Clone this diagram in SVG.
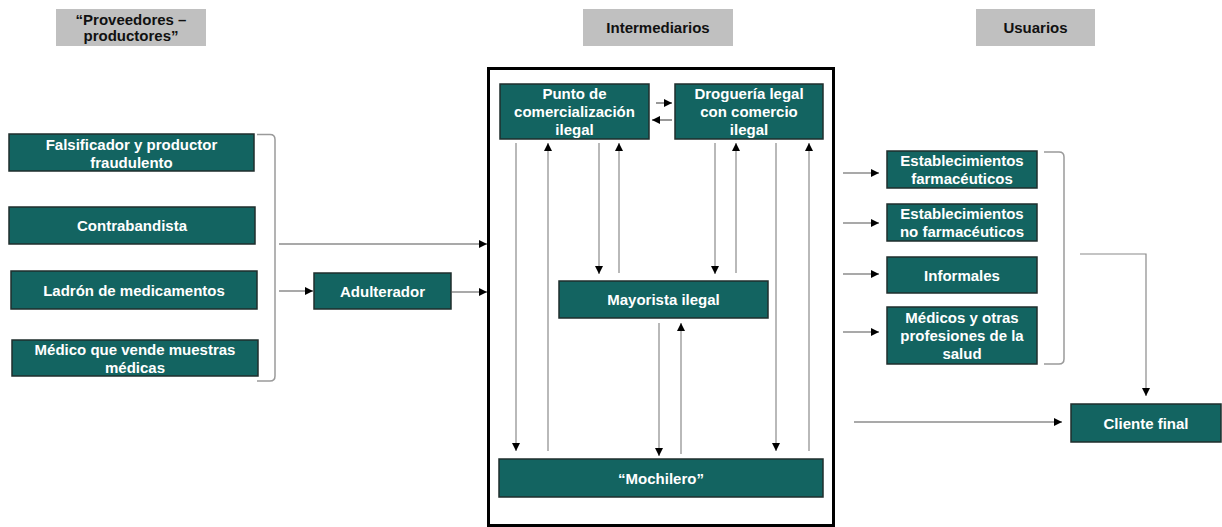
<svg xmlns="http://www.w3.org/2000/svg" width="1222" height="527" viewBox="0 0 1222 527">
<style>
.node{fill:#136461;stroke:#1f2e2d;stroke-width:1.5}
.hdr{fill:#c0c0c0}
.t{font-family:"Liberation Sans",Arial,sans-serif;font-weight:bold;font-size:15px;fill:#ffffff;text-anchor:middle}
.h{font-family:"Liberation Sans",Arial,sans-serif;font-weight:bold;font-size:15px;fill:#111111;text-anchor:middle}
.ln{fill:none;stroke:#8a8a8a;stroke-width:1.2}
.lh{fill:none;stroke:#555555;stroke-width:1.2}
.br{fill:none;stroke:#9a9a9a;stroke-width:1.5}
</style>
<defs>
<marker id="ah" markerUnits="userSpaceOnUse" markerWidth="8" markerHeight="8" refX="8" refY="4" orient="auto">
<path d="M0,0 L8,4 L0,8 z" fill="#000"/>
</marker>
</defs>
<rect width="1222" height="527" fill="#ffffff"/>

<g id="hdr-proveedores"><rect class="hdr" x="56" y="9" width="150" height="37"/><text class="h" x="131" y="25">“Proveedores –</text><text class="h" x="131" y="41">productores”</text></g>
<g id="hdr-intermediarios"><rect class="hdr" x="583" y="9" width="150" height="37"/><text class="h" x="658" y="33">Intermediarios</text></g>
<g id="hdr-usuarios"><rect class="hdr" x="976" y="9" width="119" height="37"/><text class="h" x="1035.5" y="33">Usuarios</text></g>

<g id="frame"><rect x="488.5" y="68.5" width="345" height="457" fill="none" stroke="#000" stroke-width="3"/></g>

<g id="falsificador"><rect class="node" x="9" y="134" width="245" height="37"/><text class="t" x="131.5" y="149.5">Falsificador y productor</text><text class="t" x="131.5" y="167.5">fraudulento</text></g>
<g id="contrabandista"><rect class="node" x="9" y="207" width="246" height="37"/><text class="t" x="132" y="231">Contrabandista</text></g>
<g id="ladron"><rect class="node" x="11" y="271" width="246" height="38"/><text class="t" x="134" y="295.5">Ladrón de medicamentos</text></g>
<g id="medico"><rect class="node" x="12" y="340" width="246" height="36"/><text class="t" x="135" y="354.5">Médico que vende muestras</text><text class="t" x="135" y="372.5">médicas</text></g>
<g id="adulterador"><rect class="node" x="314" y="273" width="137" height="36"/><text class="t" x="382.5" y="296.5">Adulterador</text></g>

<g id="punto"><rect class="node" x="500" y="84" width="149" height="55"/><text class="t" x="574.5" y="99">Punto de</text><text class="t" x="574.5" y="117">comercialización</text><text class="t" x="574.5" y="135">ilegal</text></g>
<g id="drogueria"><rect class="node" x="675" y="84" width="148" height="55"/><text class="t" x="749" y="99">Droguería legal</text><text class="t" x="749" y="117">con comercio</text><text class="t" x="749" y="135">ilegal</text></g>
<g id="mayorista"><rect class="node" x="559" y="281" width="209" height="37"/><text class="t" x="663.5" y="305">Mayorista ilegal</text></g>
<g id="mochilero"><rect class="node" x="499" y="459" width="324" height="38"/><text class="t" x="661" y="483.5">“Mochilero”</text></g>

<g id="est-farm"><rect class="node" x="887" y="151" width="150" height="37"/><text class="t" x="962" y="166">Establecimientos</text><text class="t" x="962" y="184">farmacéuticos</text></g>
<g id="est-nofarm"><rect class="node" x="887" y="204" width="150" height="37"/><text class="t" x="962" y="219">Establecimientos</text><text class="t" x="962" y="237">no farmacéuticos</text></g>
<g id="informales"><rect class="node" x="887" y="257" width="150" height="36"/><text class="t" x="962" y="280.5">Informales</text></g>
<g id="medicos"><rect class="node" x="887" y="307" width="150" height="57"/><text class="t" x="962" y="322.5">Médicos y otras</text><text class="t" x="962" y="340.5">profesiones de la</text><text class="t" x="962" y="358.5">salud</text></g>
<g id="cliente"><rect class="node" x="1071" y="404" width="150" height="38"/><text class="t" x="1146" y="428.5">Cliente final</text></g>

<g id="connectors">
<path class="br" d="M257,134.5 L270,134.5 Q275,134.5 275,139.5 L275,376 Q275,381 270,381 L257,381"/>
<path class="br" d="M1044,152 L1059,152 Q1064,152 1064,157 L1064,359 Q1064,364 1059,364 L1044,364"/>
<path class="lh" d="M279,244 L487,244" marker-end="url(#ah)"/>
<path class="lh" d="M279,291 L313,291" marker-end="url(#ah)"/>
<path class="lh" d="M451,292 L487,292" marker-end="url(#ah)"/>
<path class="lh" d="M656,103 L672,103" marker-end="url(#ah)"/>
<path class="lh" d="M672,120 L652,120" marker-end="url(#ah)"/>
<path class="ln" d="M516,143 L516,451" marker-end="url(#ah)"/>
<path class="ln" d="M548,451 L548,143" marker-end="url(#ah)"/>
<path class="ln" d="M599,143 L599,274" marker-end="url(#ah)"/>
<path class="ln" d="M619,273 L619,143" marker-end="url(#ah)"/>
<path class="ln" d="M715,143 L715,274" marker-end="url(#ah)"/>
<path class="ln" d="M736,273 L736,143" marker-end="url(#ah)"/>
<path class="ln" d="M776,143 L776,451" marker-end="url(#ah)"/>
<path class="ln" d="M809,451 L809,143" marker-end="url(#ah)"/>
<path class="ln" d="M659,323 L659,456" marker-end="url(#ah)"/>
<path class="ln" d="M681,454 L681,323" marker-end="url(#ah)"/>
<path class="lh" d="M843,173 L879,173" marker-end="url(#ah)"/>
<path class="lh" d="M843,223 L879,223" marker-end="url(#ah)"/>
<path class="lh" d="M843,274 L879,274" marker-end="url(#ah)"/>
<path class="lh" d="M843,332 L879,332" marker-end="url(#ah)"/>
<path class="ln" d="M1080,254 L1146,254 L1146,396" marker-end="url(#ah)"/>
<path class="lh" d="M854,422 L1062,422" marker-end="url(#ah)"/>
</g>
</svg>
